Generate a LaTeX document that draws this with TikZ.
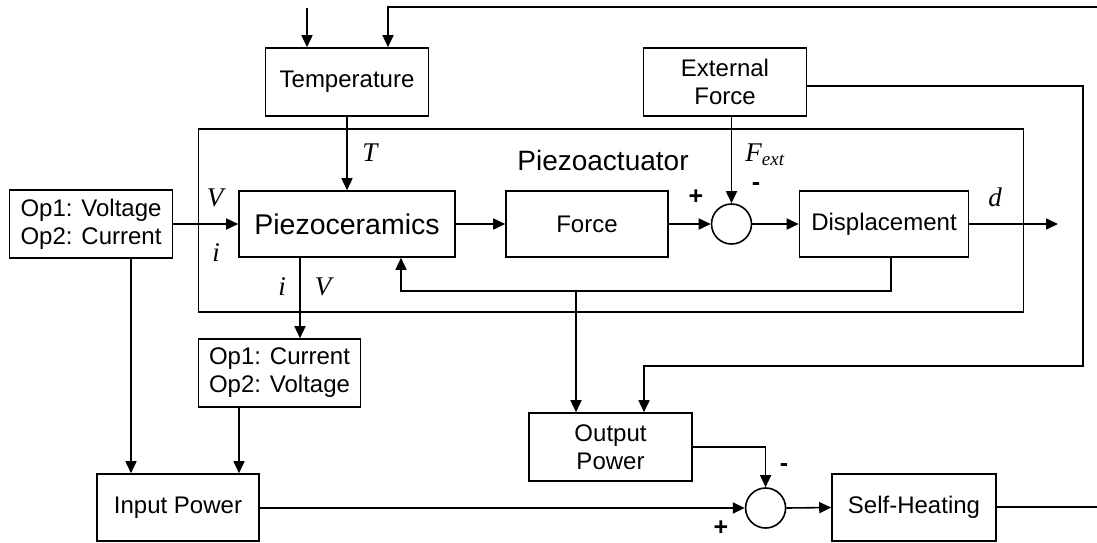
\documentclass[tikz,border=0pt]{standalone}
\usepackage{fontspec}
\setmainfont{Liberation Sans}
\newfontfamily\serif{Liberation Serif}
\usetikzlibrary{arrows.meta}
\begin{document}
\begin{tikzpicture}[x=1pt,y=-1pt,
  line width=1.6pt,
  every node/.style={inner sep=0pt},
  blk/.style={draw,rectangle,align=center,font=\fontsize{24}{28}\selectfont},
  sumc/.style={draw,circle,minimum size=40pt},
  lab/.style={font=\fontsize{27}{30}\selectfont\serif\itshape},
  sgn/.style={font=\fontsize{25}{26}\selectfont\bfseries},
  arr/.style={-{Triangle[length=12pt,width=11pt]}}]
\useasboundingbox (0,0) rectangle (1097,542);
% blocks
\node[blk,minimum width=825pt,minimum height=183pt] (act) at (611,220.5) {};
\node[font=\fontsize{28}{30}\selectfont] (actl) at (603,160) {Piezoactuator};
\node[blk,minimum width=163pt,minimum height=68pt] (temp) at (347,82) {Temperature};
\node[blk,minimum width=163pt,minimum height=68pt] (ext) at (725,82) {External\\Force};
\node[blk,minimum width=163pt,minimum height=68pt] (opv) at (91,224) {Op1: Voltage\\Op2: Current};
\node[blk,minimum width=216pt,minimum height=66pt,font=\fontsize{28.5}{30}\selectfont] (piezo) at (347,224) {Piezoceramics};
\node[blk,minimum width=162pt,minimum height=66pt] (force) at (587,224) {Force};
\node[sumc] (sum1) at (731.5,224) {};
\node[blk,minimum width=169pt,minimum height=66pt] (disp) at (884,224) {Displacement};
\node[blk,minimum width=162pt,minimum height=68pt] (opc) at (279.5,373) {Op1: Current\\Op2: Voltage};
\node[blk,minimum width=162pt,minimum height=67pt] (inp) at (178,507.5) {Input Power};
\node[blk,minimum width=163pt,minimum height=68pt] (outp) at (610.5,447) {Output\\Power};
\node[sumc] (sum2) at (765.6,508) {};
\node[blk,minimum width=164pt,minimum height=67pt] (sh) at (914,507.5) {Self-Heating};
% free ends
\coordinate (topin) at (307,8);
\coordinate (topr) at (1097,7);
\coordinate (dout) at (1058,224);
\coordinate (shout) at (1097,507);
% connectors
\draw[arr] (topin) -- (topin |- temp.north);
\draw[arr] (topr) -- (388,7) -- (388,0 |- temp.north);
\draw[arr] (temp.south) -- (piezo.north);
\draw[arr] (opv.east) -- (piezo.west);
\draw[arr] (piezo.east) -- (force.west);
\draw[arr] (force.east) -- (sum1.west);
\draw[arr] (sum1 |- ext.south) -- (sum1.north);
\draw[arr] (sum1.east) -- (disp.west);
\draw[arr] (disp.east) -- (dout);
\draw[arr] (891,0 |- disp.south) -- (891,291) -- (401,291) -- (401,0 |- piezo.south);
\draw[arr] (576,291) -- (576,0 |- outp.north);
\draw[arr] (300,0 |- piezo.south) -- (300,0 |- opc.north);
\draw[arr] (131,0 |- opv.south) -- (131,0 |- inp.north);
\draw[arr] (239,0 |- opc.south) -- (239,0 |- inp.north);
\draw[arr] (ext.east |- 0,86) -- (1083,86) -- (1083,366) -- (644,366) -- (644,0 |- outp.north);
\draw[arr] (inp.east |- sum2.west) -- (sum2.west);
\draw[arr] (outp.east) -- (sum2 |- outp.east) -- (sum2.north);
\draw[arr] (sum2.east) -- (sh.west);
\draw (sh.east |- shout) -- (shout);
% labels
\node[lab] (lV1) at (215,198) {V};
\node[lab] (li1) at (216,253) {i};
\node[lab] (lT) at (370,153) {T};
\node[lab] (li2) at (282,287) {i};
\node[lab] (lV2) at (323,287) {V};
\node[lab] (ld) at (995,197) {d};
\node[lab] (lF) at (765,155) {F\textsubscript{\fontsize{19}{20}\selectfont ext}};
\node[sgn] (p1) at (696,197) {+};
\node[sgn] (m1) at (756,187) {-};
\node[sgn] (m2) at (784,468) {-};
\node[sgn] (p2) at (721,528) {+};
\end{tikzpicture}
\end{document}
